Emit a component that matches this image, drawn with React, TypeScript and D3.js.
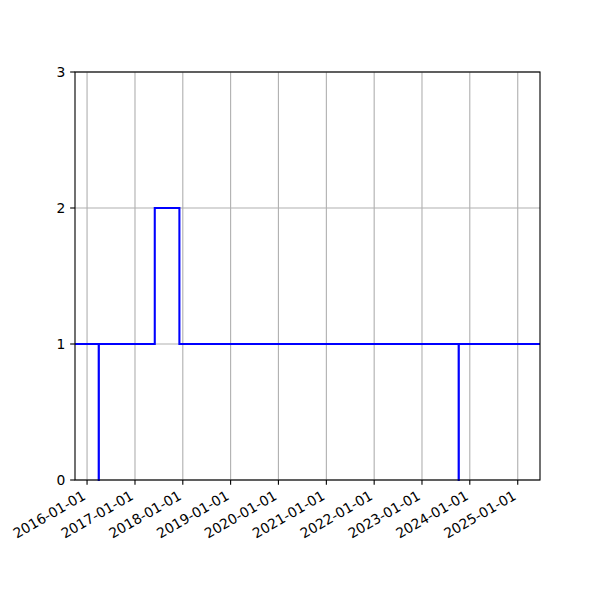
import React from "react";
import * as d3 from "d3";

const dates: string[] = [
  "2015-10-01",
  "2016-03-30",
  "2016-03-31",
  "2017-06-01",
  "2017-12-06",
  "2023-10-08",
  "2023-10-09",
  "2025-06-20",
];
const values: number[] = [1, 0, 1, 2, 1, 0, 1, 1];
const yTicks: number[] = [0, 1, 2, 3];
const xTickYears: number[] = [2016, 2017, 2018, 2019, 2020, 2021, 2022, 2023, 2024, 2025];

const W = 600;
const H = 600;
const left = 75;
const right = 540;
const top = 72;
const bottom = 480;
const fontSize = 13.89;
const tickLen = 4.86;
const pad = 4.86;
const thin = 1.11;

export default function App() {
  const parse = d3.utcParse("%Y-%m-%d");
  const pts = dates.map((d, i) => ({ date: parse(d) as Date, v: values[i] }));
  const x = d3
    .scaleUtc()
    .domain([pts[0].date, pts[pts.length - 1].date])
    .range([left, right]);
  const y = d3.scaleLinear().domain([0, 3]).range([bottom, top]);
  const line = d3
    .line<{ date: Date; v: number }>()
    .x((d) => x(d.date))
    .y((d) => y(d.v))
    .curve(d3.curveStepAfter);
  const fmt = d3.utcFormat("%Y-%m-%d");
  const xTicks = xTickYears.map((yr) => new Date(Date.UTC(yr, 0, 1)));

  return (
    <svg width={W} height={H} style={{ display: "block", position: "absolute", left: 0, top: 0 }}>
      <rect x={0} y={0} width={W} height={H} fill="#ffffff" />
      <g>
        {xTicks.map((t, i) => (
          <line key={"gx" + i} x1={x(t)} x2={x(t)} y1={top} y2={bottom} stroke="#b0b0b0" strokeWidth={thin} />
        ))}
        {yTicks.map((t, i) => (
          <line key={"gy" + i} x1={left} x2={right} y1={y(t)} y2={y(t)} stroke="#b0b0b0" strokeWidth={thin} />
        ))}
      </g>
      <defs>
        <clipPath id="clip">
          <rect x={left} y={top - 2} width={right - left} height={bottom - top + 4} />
        </clipPath>
      </defs>
      <path d={line(pts) || ""} fill="none" stroke="#0000ff" strokeWidth={2.08} clipPath="url(#clip)" />
      <rect x={left} y={top} width={right - left} height={bottom - top} fill="none" stroke="#000" strokeWidth={thin} />
      <g fontFamily="DejaVu Sans" fontSize={fontSize} fill="#000">
        {xTicks.map((t, i) => {
          const tx = x(t);
          return (
            <g key={"xt" + i}>
              <line x1={tx} x2={tx} y1={bottom} y2={bottom + tickLen} stroke="#000" strokeWidth={thin} />
              <text
                transform={`translate(${tx - 0.5},${bottom + tickLen + pad + 8.8}) rotate(-30)`}
                textAnchor="end"
              >
                {fmt(t)}
              </text>
            </g>
          );
        })}
        {yTicks.map((t, i) => (
          <g key={"yt" + i}>
            <line x1={left - tickLen} x2={left} y1={y(t)} y2={y(t)} stroke="#000" strokeWidth={thin} />
            <text x={left - tickLen - pad} y={y(t)} dy="0.35em" textAnchor="end">
              {t}
            </text>
          </g>
        ))}
      </g>
    </svg>
  );
}
